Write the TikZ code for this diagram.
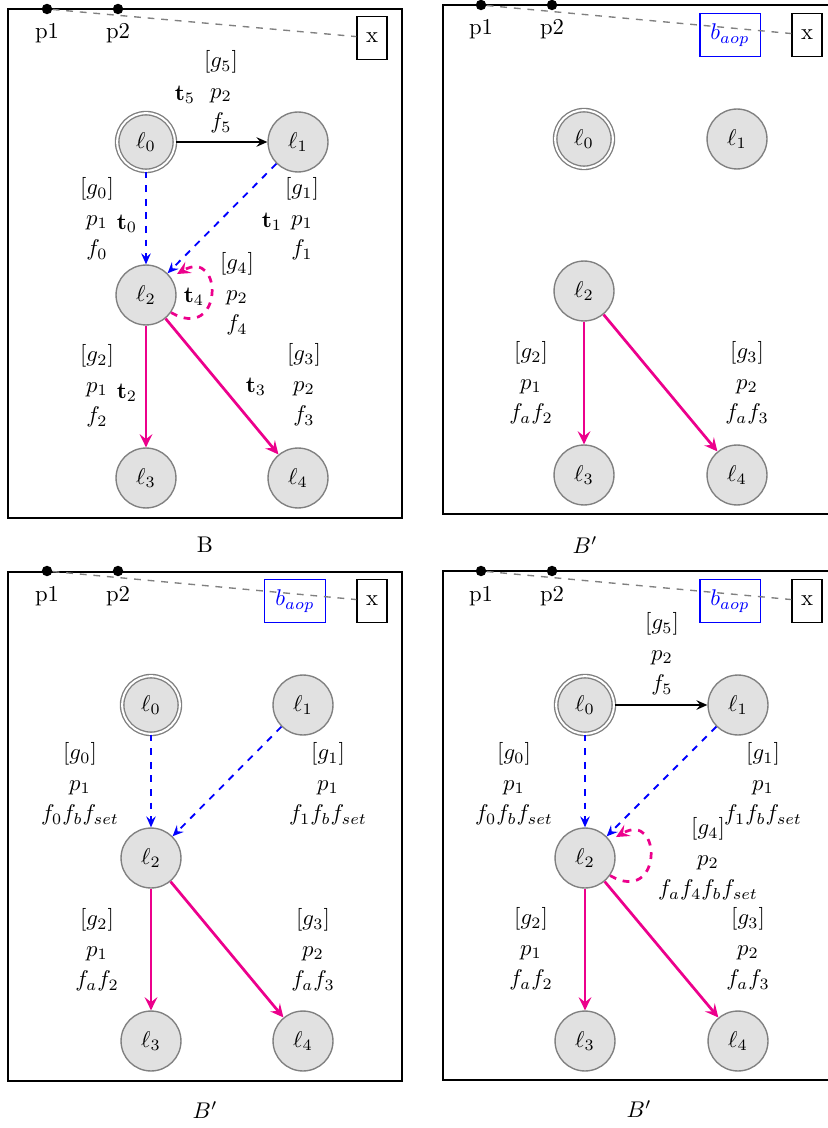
\documentclass[tikz,border=0pt]{standalone}
\usepackage{amsmath}
\usepackage{amssymb}
\usepackage{xcolor}
\definecolor{aopMagenta}{RGB}{236,0,140}
\definecolor{locGray}{RGB}{225,225,225}
\usetikzlibrary{arrows.meta,positioning,calc}

\newcommand{\edgelab}[3]{$[#1]$\\[1.5pt]$#2$\\[1.5pt]$#3$}

\begin{document}
\begin{tikzpicture}[
  x=0.4405pt, y=0.4405pt,
  loc/.style={circle, draw=black!50, fill=locGray, semithick,
              minimum size=26.4pt, inner sep=0pt},
  initloc/.style={loc, double, double distance=0.9pt, minimum size=25.4pt},
  panel/.style={draw, thick},
  portdot/.style={circle, fill, inner sep=0pt, minimum size=4.6pt},
  xbox/.style={draw, semithick, minimum width=13.2pt, minimum height=18.8pt, inner sep=0pt},
  aopbox/.style={draw=blue, text=blue, semithick, minimum width=26.6pt,
                 minimum height=18.8pt, inner sep=0pt},
  wire/.style={dashed, gray, semithick},
  lab/.style={align=center, inner sep=0pt},
  tlab/.style={inner sep=0pt},
  syncedge/.style={-{Stealth[length=4.8pt, width=4.2pt, inset=1.7pt]}, thick},
  dashedge/.style={-{Stealth[length=4.8pt, width=4.2pt, inset=1.7pt]}, dashed, thick, blue},
  aopedge/.style={-{Stealth[length=5.8pt, width=5.6pt, inset=2.2pt]}, very thick, aopMagenta},
  loopedge/.style={-{Stealth[length=5.8pt, width=5.6pt, inset=2.2pt]}, very thick, dashed,
                   aopMagenta, shorten >=3pt}
]
  \useasboundingbox (0,0) rectangle (827,-1128);

  % ---------- B ----------
  \draw[panel] (8,-9) rectangle (402,-518);
  \node[portdot] (Ap1) at (47,-9) {};
  \node[portdot] (Ap2) at (118,-9) {};
  \node (Ap1lab) at (47,-33) {p1};
  \node (Ap2lab) at (118,-33) {p2};
  \node[xbox] (Ax) at (372,-38) {x};
  \draw[wire] (Ap1) -- (Ax);

  \node[initloc] (Al0) at (146,-142) {$\ell_0$};
  \node[loc]     (Al1) at (298,-142) {$\ell_1$};
  \node[loc]     (Al2) at (146,-295) {$\ell_2$};
  \node[loc]     (Al3) at (146,-478) {$\ell_3$};
  \node[loc]     (Al4) at (298,-478) {$\ell_4$};

  \draw[syncedge] (Al0) -- (Al1);
  \draw[dashedge] (Al0) -- (Al2);
  \draw[dashedge] (Al1) -- (Al2);
  \draw[loopedge] (Al2.-35) to[out=-30, in=30, distance=26.7pt] (Al2.35);
  \draw[aopedge]  (Al2) -- (Al3);
  \draw[aopedge]  (Al2) -- (Al4);

  \node[lab] (Ag5) at (221,-92)  {\edgelab{g_5}{p_2}{f_5}};
  \node[lab] (Ag0) at (97,-219)  {\edgelab{g_0}{p_1}{f_0}};
  \node[lab] (Ag1) at (302,-219) {\edgelab{g_1}{p_1}{f_1}};
  \node[lab] (Ag4) at (237,-294) {\edgelab{g_4}{p_2}{f_4}};
  \node[lab] (Ag2) at (97,-386)  {\edgelab{g_2}{p_1}{f_2}};
  \node[lab] (Ag3) at (304,-385) {\edgelab{g_3}{p_2}{f_3}};

  \node[tlab] (At5) at (185,-95)  {$\mathbf{t}_5$};
  \node[tlab] (At0) at (127,-224) {$\mathbf{t}_0$};
  \node[tlab] (At1) at (272,-222) {$\mathbf{t}_1$};
  \node[tlab] (At4) at (194,-297) {$\mathbf{t}_4$};
  \node[tlab] (At2) at (127,-393) {$\mathbf{t}_2$};
  \node[tlab] (At3) at (256,-387) {$\mathbf{t}_3$};

  \node (Acap) at (205,-545) {B};

  % ---------- B' (top) ----------
  \draw[panel] (443,-5) rectangle (837,-514);
  \node[portdot] (Bp1) at (481,-5) {};
  \node[portdot] (Bp2) at (552,-5) {};
  \node (Bp1lab) at (481,-29) {p1};
  \node (Bp2lab) at (552,-29) {p2};
  \node[aopbox] (Baop) at (730,-35) {$b_{aop}$};
  \node[xbox] (Bx) at (807,-35) {x};
  \draw[wire] (Bp1) -- (Bx);

  \node[initloc] (Bl0) at (584,-139) {$\ell_0$};
  \node[loc]     (Bl1) at (737,-139) {$\ell_1$};
  \node[loc]     (Bl2) at (584,-291) {$\ell_2$};
  \node[loc]     (Bl3) at (584,-475) {$\ell_3$};
  \node[loc]     (Bl4) at (737,-475) {$\ell_4$};

  \draw[aopedge] (Bl2) -- (Bl3);
  \draw[aopedge] (Bl2) -- (Bl4);

  \node[lab] (Bg2) at (531,-383) {\edgelab{g_2}{p_1}{f_af_2}};
  \node[lab] (Bg3) at (747,-383) {\edgelab{g_3}{p_2}{f_af_3}};

  \node (Bcap) at (585,-545) {$B'$};

  % ---------- B' (bottom left) ----------
  \draw[panel] (8,-572) rectangle (402,-1081);
  \node[portdot] (Cp1) at (47,-571) {};
  \node[portdot] (Cp2) at (118,-571) {};
  \node (Cp1lab) at (47,-596) {p1};
  \node (Cp2lab) at (118,-596) {p2};
  \node[aopbox] (Caop) at (295,-601) {$b_{aop}$};
  \node[xbox] (Cx) at (372,-601) {x};
  \draw[wire] (Cp1) -- (Cx);

  \node[initloc] (Cl0) at (151,-705)  {$\ell_0$};
  \node[loc]     (Cl1) at (303,-705)  {$\ell_1$};
  \node[loc]     (Cl2) at (151,-858)  {$\ell_2$};
  \node[loc]     (Cl3) at (151,-1041) {$\ell_3$};
  \node[loc]     (Cl4) at (303,-1041) {$\ell_4$};

  \draw[dashedge] (Cl0) -- (Cl2);
  \draw[dashedge] (Cl1) -- (Cl2);
  \draw[aopedge]  (Cl2) -- (Cl3);
  \draw[aopedge]  (Cl2) -- (Cl4);

  \node[lab] (Cg0) at (80,-784)  {\edgelab{g_0}{p_1}{f_0f_bf_{set}}};
  \node[lab] (Cg1) at (328,-784) {\edgelab{g_1}{p_1}{f_1f_bf_{set}}};
  \node[lab] (Cg2) at (97,-950)  {\edgelab{g_2}{p_1}{f_af_2}};
  \node[lab] (Cg3) at (313,-950) {\edgelab{g_3}{p_2}{f_af_3}};

  \node (Ccap) at (205,-1110) {$B'$};

  % ---------- B' (bottom right) ----------
  \draw[panel] (443,-571) rectangle (837,-1080);
  \node[portdot] (Dp1) at (481,-571) {};
  \node[portdot] (Dp2) at (552,-571) {};
  \node (Dp1lab) at (481,-596) {p1};
  \node (Dp2lab) at (552,-596) {p2};
  \node[aopbox] (Daop) at (730,-601) {$b_{aop}$};
  \node[xbox] (Dx) at (807,-601) {x};
  \draw[wire] (Dp1) -- (Dx);

  \node[initloc] (Dl0) at (585,-705)  {$\ell_0$};
  \node[loc]     (Dl1) at (738,-705)  {$\ell_1$};
  \node[loc]     (Dl2) at (585,-858)  {$\ell_2$};
  \node[loc]     (Dl3) at (585,-1041) {$\ell_3$};
  \node[loc]     (Dl4) at (738,-1041) {$\ell_4$};

  \draw[syncedge] (Dl0) -- (Dl1);
  \draw[dashedge] (Dl0) -- (Dl2);
  \draw[dashedge] (Dl1) -- (Dl2);
  \draw[loopedge] (Dl2.-35) to[out=-30, in=30, distance=26.7pt] (Dl2.35);
  \draw[aopedge]  (Dl2) -- (Dl3);
  \draw[aopedge]  (Dl2) -- (Dl4);

  \node[lab] (Dg5) at (662,-654) {\edgelab{g_5}{p_2}{f_5}};
  \node[lab] (Dg0) at (514,-784) {\edgelab{g_0}{p_1}{f_0f_bf_{set}}};
  \node[lab] (Dg1) at (763,-784) {\edgelab{g_1}{p_1}{f_1f_bf_{set}}};
  \node[lab] (Dg4) at (708,-859) {\edgelab{g_4}{p_2}{f_af_4f_bf_{set}}};
  \node[lab] (Dg2) at (531,-949) {\edgelab{g_2}{p_1}{f_af_2}};
  \node[lab] (Dg3) at (748,-949) {\edgelab{g_3}{p_2}{f_af_3}};

  \node (Dcap) at (639,-1109) {$B'$};
\end{tikzpicture}
\end{document}
